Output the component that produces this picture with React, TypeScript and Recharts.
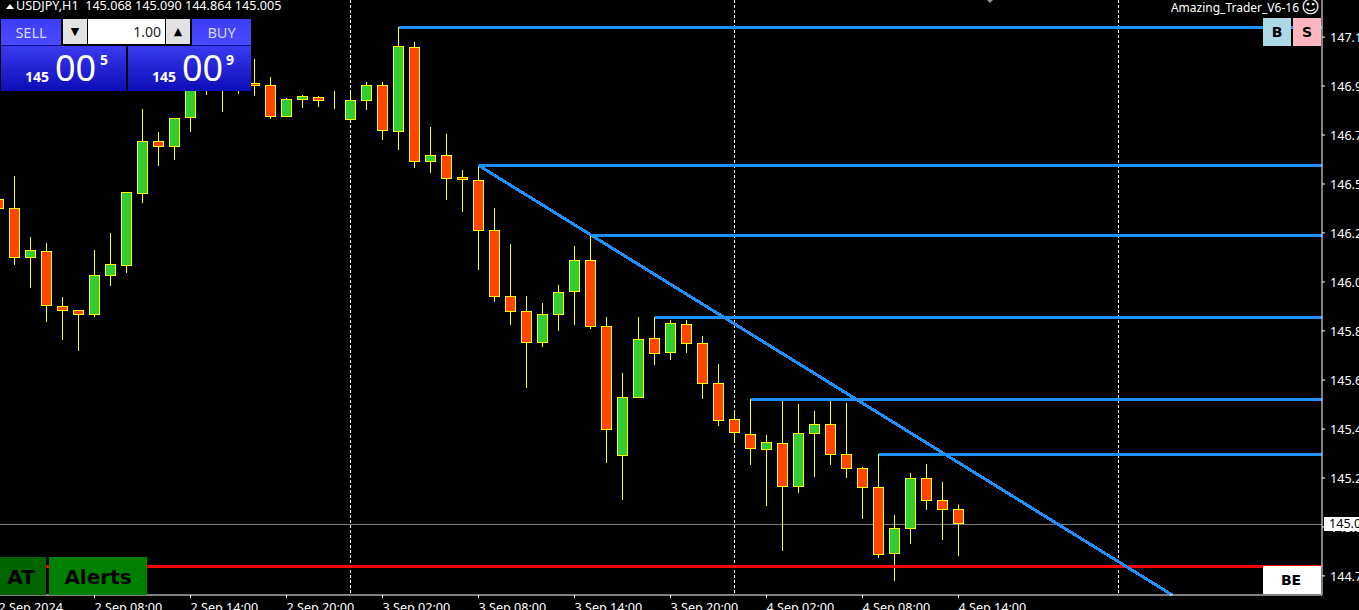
import { ComposedChart, Bar, XAxis, YAxis, ReferenceLine, CartesianGrid } from 'recharts';

const opens = [
  146.417, 146.377, 146.164, 146.19, 145.951, 145.934, 145.916, 146.086, 146.129, 146.443,
  146.669, 146.647, 146.773, 146.899, 146.986, 146.908, 146.921, 146.912, 146.778, 146.852,
  146.86, 146.865, 146.765, 146.847, 146.912, 146.712, 147.078, 146.582, 146.608, 146.512,
  146.499, 146.282, 145.995, 145.929, 145.795, 145.916, 146.016, 146.151, 145.864, 145.303,
  145.555, 145.812, 145.751, 145.873, 145.79, 145.616, 145.46, 145.394, 145.329, 145.355,
  145.168, 145.399, 145.438, 145.307, 145.246, 145.164, 144.877, 144.985, 145.203, 145.107,
  145.068,
];
const highs = [
  146.419, 146.519, 146.253, 146.227, 145.992, 145.936, 146.197, 146.271, 146.449, 146.81,
  146.71, 146.771, 146.958, 146.971, 147.023, 146.989, 147.028, 146.949, 146.858, 146.871,
  146.867, 146.889, 146.88, 146.928, 146.928, 147.167, 147.102, 146.732, 146.702, 146.545,
  146.567, 146.38, 146.223, 145.997, 145.966, 146.045, 146.214, 146.262, 145.905, 145.662,
  145.905, 145.905, 145.892, 145.892, 145.823, 145.701, 145.501, 145.549, 145.392, 145.54,
  145.527, 145.497, 145.54, 145.531, 145.253, 145.31, 145.044, 145.227, 145.266, 145.188,
  145.09,
];
const lows = [
  146.371, 146.132, 146.032, 145.884, 145.805, 145.758, 145.905, 146.04, 146.097, 146.401,
  146.562, 146.588, 146.71, 146.871, 146.797, 146.876, 146.867, 146.767, 146.775, 146.815,
  146.819, 146.81, 146.758, 146.806, 146.675, 146.632, 146.554, 146.532, 146.414, 146.362,
  146.11, 145.971, 145.871, 145.597, 145.775, 145.845, 145.871, 145.853, 145.27, 145.109,
  145.553, 145.697, 145.718, 145.749, 145.549, 145.431, 145.362, 145.262, 145.083, 144.888,
  145.14, 145.209, 145.262, 145.205, 145.027, 144.857, 144.757, 144.918, 145.066, 144.935,
  144.864,
];
const closes = [
  146.377, 146.164, 146.195, 145.955, 145.934, 145.916, 146.086, 146.134, 146.447, 146.669,
  146.647, 146.769, 146.899, 146.934, 146.91, 146.969, 146.912, 146.778, 146.852, 146.865,
  146.847, 146.865, 146.847, 146.912, 146.717, 147.082, 146.582, 146.608, 146.508, 146.504,
  146.282, 145.995, 145.929, 145.795, 145.916, 146.012, 146.151, 145.864, 145.416, 145.555,
  145.808, 145.747, 145.877, 145.79, 145.616, 145.455, 145.403, 145.333, 145.36, 145.168,
  145.399, 145.438, 145.307, 145.246, 145.164, 144.872, 144.985, 145.203, 145.107, 145.068,
  145.005,
];

const candles = opens.map((open, i) => ({
  i,
  open,
  high: highs[i],
  low: lows[i],
  close: closes[i],
}));

const xDomain: [number, number] = [0.09375, 82.71875];
const yDomain: [number, number] = [144.696, 147.2844];

const xTicks = [0, 6, 12, 18, 24, 30, 36, 42, 48, 54, 60];
const xTickLabels = [
  '2 Sep 2024', '2 Sep 08:00', '2 Sep 14:00', '2 Sep 20:00', '3 Sep 02:00', '3 Sep 08:00',
  '3 Sep 14:00', '3 Sep 20:00', '4 Sep 02:00', '4 Sep 08:00', '4 Sep 14:00',
];
const yTicks = [
  147.123, 146.91, 146.697, 146.484, 146.271, 146.058, 145.845, 145.631, 145.418, 145.205,
  144.992, 144.779,
];
const yTickLabels = [
  '147.1', '146.9', '146.7', '146.5', '146.2', '146.0', '145.8', '145.6', '145.4', '145.2',
  '145.0', '144.7',
];
const daySeparators = [22, 46, 70];
// start bar and price of each horizontal swing-high line
const levelStarts = [25, 30, 37, 41, 47, 55];
const levelPrices = [147.165, 146.565, 146.26, 145.903, 145.547, 145.307];
const trendIndexes = [30, 73.36];
const trendPrices = [146.565, 144.696];
const supportPrice = 144.82;
const lastPrice = 145.003;

const FONT = '"Noto Sans", sans-serif';

function Candle(props: any) {
  const { x, y, width, height, payload } = props;
  const { open, close, high, low } = payload;
  const scale = height / (high - low);
  const snap = (v: number) => Math.round(v - 0.5) + 0.5;
  const cx = Math.floor(x + width / 2) + 0.5;
  const top = snap(y + (high - Math.max(open, close)) * scale);
  const bottom = snap(y + (high - Math.min(open, close)) * scale);
  return (
    <g>
      <line x1={cx} x2={cx} y1={y} y2={y + height} stroke="#ffff00" />
      <rect
        x={cx - 5}
        y={top}
        width={10}
        height={bottom - top}
        fill={close >= open ? '#32cd32' : '#ff4500'}
        stroke="#ffff00"
      />
    </g>
  );
}

function TimeTick({ x, y, payload }: any) {
  const label = xTickLabels[xTicks.indexOf(payload.value)];
  return (
    <text x={x} y={y + 12} fill="#fff" fontSize={12.6} fontFamily={FONT} textAnchor="start">
      {label}
    </text>
  );
}

function PriceTick({ x, y, payload }: any) {
  const label = yTickLabels[yTicks.indexOf(payload.value)];
  return (
    <text x={x + 1} y={y + 5} fill="#fff" fontSize={12.6} fontFamily={FONT} textAnchor="start">
      {label}
    </text>
  );
}

function Box({ style, children }: any) {
  return <div style={{ position: 'absolute', whiteSpace: 'nowrap', ...style }}>{children}</div>;
}

function PriceQuote({ left, supLeft, sup, width }: any) {
  return (
    <>
      <Box
        style={{
          left,
          top: 46,
          width,
          height: 45,
          background: 'linear-gradient(#3a3af0, #0c0cb8)',
        }}
      />
      <Box style={{ left: left + 24, top: 67, color: '#fff', font: `bold 14px ${FONT}` }}>145</Box>
      <Box style={{ left: left + 54, top: 43, color: '#fff', font: `36px ${FONT}` }}>00</Box>
      <Box style={{ left: supLeft, top: 50, color: '#fff', font: `bold 14px ${FONT}` }}>{sup}</Box>
    </>
  );
}

function TradePanel() {
  const btn = {
    top: 19,
    height: 27,
    background: 'linear-gradient(#3c3cf5, #4a4aff)',
    color: '#d4d8ff',
    font: `14.5px ${FONT}`,
    lineHeight: '26px',
    textAlign: 'center' as const,
    borderBottom: '1px solid #0c0c90',
    boxSizing: 'border-box' as const,
  };
  const arrow = {
    top: 19,
    height: 25,
    width: 24,
    background: '#e2e2e2',
    textAlign: 'center' as const,
    color: '#000',
    font: `11px "DejaVu Sans"`,
    lineHeight: '25px',
  };
  return (
    <>
      <Box style={{ ...btn, left: 1, width: 60 }}>SELL</Box>
      <Box style={{ ...btn, left: 192, width: 59 }}>BUY</Box>
      <Box style={{ ...arrow, left: 63 }}>▼</Box>
      <Box
        style={{
          left: 88,
          top: 19,
          width: 73,
          height: 25,
          paddingRight: 4,
          background: '#fff',
          color: '#222',
          textAlign: 'right',
          font: `14px ${FONT}`,
          lineHeight: '25px',
        }}
      >
        1.00
      </Box>
      <Box style={{ ...arrow, left: 166 }}>▲</Box>
      <PriceQuote left={1} width={125} supLeft={100} sup="5" />
      <PriceQuote left={128} width={123} supLeft={226} sup="9" />
    </>
  );
}

export default function App() {
  return (
    <div
      style={{
        position: 'absolute',
        left: 0,
        top: 0,
        width: 1359,
        height: 610,
        background: '#000',
        overflow: 'hidden',
        fontFamily: FONT,
      }}
    >
      <ComposedChart
        width={1359}
        height={610}
        data={candles}
        margin={{ top: 0, right: 0, bottom: 0, left: 0 }}
      >
        <CartesianGrid
          horizontal={false}
          verticalValues={daySeparators}
          stroke="#fff"
          strokeDasharray="3 2"
        />
        <CartesianGrid vertical={false} horizontalValues={[lastPrice]} stroke="#808080" />
        <XAxis
          dataKey="i"
          type="number"
          domain={xDomain}
          allowDataOverflow
          ticks={xTicks}
          interval={0}
          height={15}
          stroke="#fff"
          tickSize={3}
          tick={<TimeTick />}
        />
        <YAxis
          orientation="right"
          type="number"
          domain={yDomain}
          allowDataOverflow
          ticks={yTicks}
          interval={0}
          width={37}
          stroke="#fff"
          tickSize={3}
          tickMargin={4}
          tick={<PriceTick />}
        />
        <Bar
          dataKey={(d: any) => [d.low, d.high]}
          barSize={11}
          isAnimationActive={false}
          shape={<Candle />}
        />
        <ReferenceLine y={supportPrice} stroke="#ff0000" strokeWidth={3.5} shapeRendering="crispEdges" />
        {levelPrices.map((price, k) => (
          <ReferenceLine
            key={price}
            segment={[
              { x: levelStarts[k], y: price },
              { x: xDomain[1], y: price },
            ]}
            stroke="#1e90ff"
            strokeWidth={3.5}
            shapeRendering="crispEdges"
          />
        ))}
        <ReferenceLine
          segment={[
            { x: trendIndexes[0], y: trendPrices[0] },
            { x: trendIndexes[1], y: trendPrices[1] },
          ]}
          stroke="#1e90ff"
          strokeWidth={3}
          shapeRendering="crispEdges"
        />
      </ComposedChart>

      <Box style={{ left: 6, top: 4, width: 0, height: 0, borderLeft: '4px solid transparent', borderRight: '4px solid transparent', borderBottom: '5px solid #fff' }} />
      <Box style={{ left: 16, top: -2, color: '#fff', font: `12.6px ${FONT}`, lineHeight: '16px' }}>
        USDJPY,H1&nbsp;&nbsp;145.068 145.090 144.864 145.005
      </Box>
      <Box style={{ left: 987, top: 0, width: 0, height: 0, borderLeft: '3px solid transparent', borderRight: '3px solid transparent', borderTop: '3px solid #8899aa' }} />
      <Box style={{ right: 60, top: 0, color: '#fff', font: `12px ${FONT}`, lineHeight: '15px' }}>Amazing_Trader_V6-16</Box>
      <Box style={{ left: 1301, top: -2, color: '#fff', font: `18px "DejaVu Sans"`, lineHeight: '18px' }}>☺</Box>

      <TradePanel />

      <Box style={{ left: 1263, top: 18, width: 28, height: 28, background: '#add8e6', color: '#000', font: `bold 14px "DejaVu Sans"`, lineHeight: '28px', textAlign: 'center' }}>B</Box>
      <Box style={{ left: 1293, top: 18, width: 28, height: 28, background: '#ffb6c1', color: '#000', font: `bold 14px "DejaVu Sans"`, lineHeight: '28px', textAlign: 'center' }}>S</Box>
      <Box style={{ left: 1263, top: 566, width: 56, height: 28, background: '#fff', color: '#000', font: `bold 14px "DejaVu Sans"`, lineHeight: '28px', textAlign: 'center', paddingRight: 2 }}>BE</Box>

      <Box style={{ left: 0, top: 557, width: 42, height: 38, paddingRight: 4, background: '#006400', color: '#000', font: `bold 20px "DejaVu Sans"`, lineHeight: '40px', textAlign: 'center' }}>AT</Box>
      <Box style={{ left: 49, top: 557, width: 98, height: 38, background: '#008000', color: '#000', font: `bold 20px "DejaVu Sans"`, lineHeight: '40px', textAlign: 'center' }}>Alerts</Box>

      <Box style={{ left: 1324, top: 517, width: 35, height: 14, background: '#fff', color: '#000', font: `12.6px ${FONT}`, lineHeight: '14px', paddingLeft: 5, boxSizing: 'border-box' }}>145.0</Box>
    </div>
  );
}
